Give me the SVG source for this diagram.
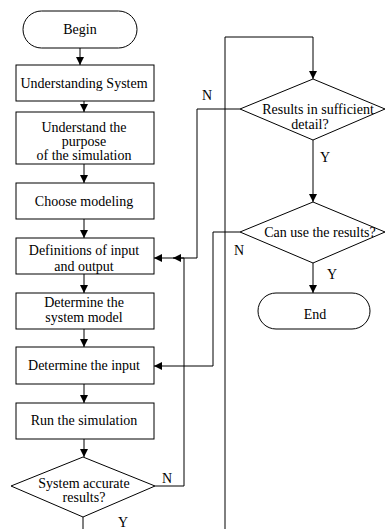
<svg xmlns="http://www.w3.org/2000/svg" width="386" height="529" viewBox="0 0 386 529">
<style>
.s{fill:#fff;stroke:#000;stroke-width:1}
.c{fill:none;stroke:#000;stroke-width:1}
.a{marker-end:url(#ah)}
.t{font-size:14px;fill:#000;text-anchor:middle}
</style>
<defs>
<marker id="ah" markerWidth="8" markerHeight="8" refX="8" refY="4" orient="auto" markerUnits="userSpaceOnUse">
<path d="M0,0 L8,4 L0,8 Z" fill="#000"/>
</marker>
</defs>
<rect width="386" height="529" fill="#fff"/>
<g font-family="'Liberation Serif', 'Times New Roman', 'DejaVu Serif', serif">
<g id="connectors">
<path class="c a" d="M80,48 V65"/>
<path class="c a" d="M84,101 V112"/>
<path class="c a" d="M84,164 V183"/>
<path class="c a" d="M84,219 V238"/>
<path class="c a" d="M84,274 V293"/>
<path class="c a" d="M84,329 V347"/>
<path class="c a" d="M84,384 V403"/>
<path class="c a" d="M84,439 V457"/>
<path class="c" d="M83,517 V529"/>
<path class="c a" d="M155,486 H184 V258 H173"/>
<path class="c a" d="M240,109 H197 V258 H154"/>
<path class="c a" d="M240,232 H213 V366 H154"/>
<path class="c a" d="M225,529 V37 H313 V79"/>
<path class="c a" d="M313,140 V202"/>
<path class="c a" d="M313,263 V293"/>
<text class="t" x="167" y="483">N</text>
<text class="t" x="123" y="527">Y</text>
<text class="t" x="207" y="100">N</text>
<text class="t" x="325" y="162">Y</text>
<text class="t" x="239" y="255">N</text>
<text class="t" x="332" y="279">Y</text>
</g>
<g id="begin"><rect class="s" x="23" y="11" width="114" height="37" rx="18.5"/><text class="t" x="80" y="34">Begin</text></g>
<g id="understanding-system"><rect class="s" x="16" y="65" width="138" height="36"/><text class="t" x="84" y="88">Understanding System</text></g>
<g id="understand-purpose"><rect class="s" x="16" y="112" width="138" height="52"/><text class="t" x="84" y="132">Understand the</text><text class="t" x="84" y="146">purpose</text><text class="t" x="84" y="160">of the simulation</text></g>
<g id="choose-modeling"><rect class="s" x="16" y="183" width="138" height="36"/><text class="t" x="84" y="206">Choose modeling</text></g>
<g id="definitions"><rect class="s" x="16" y="238" width="138" height="36"/><text class="t" x="84" y="255">Definitions of input</text><text class="t" x="84" y="271">and output</text></g>
<g id="system-model"><rect class="s" x="16" y="293" width="138" height="36"/><text class="t" x="84" y="307">Determine the</text><text class="t" x="84" y="322">system model</text></g>
<g id="determine-input"><rect class="s" x="16" y="347" width="138" height="37"/><text class="t" x="84" y="370">Determine the input</text></g>
<g id="run-simulation"><rect class="s" x="16" y="403" width="138" height="36"/><text class="t" x="84" y="425">Run the simulation</text></g>
<g id="system-accurate"><polygon class="s" points="83,457 155,486 83,517 11,486"/><text class="t" x="84" y="488">System accurate</text><text class="t" x="84" y="502">results?</text></g>
<g id="results-sufficient"><polygon class="s" points="313,79 385,109 313,140 240,109"/><text class="t" x="318" y="114">Results in sufficient</text><text class="t" x="310" y="129">detail?</text></g>
<g id="can-use"><polygon class="s" points="313,202 385,232 313,263 240,232"/><text class="t" x="320" y="237">Can use the results?</text></g>
<g id="end"><rect class="s" x="258" y="293" width="112" height="36" rx="18"/><text class="t" x="315" y="319">End</text></g>
</g>
</svg>
